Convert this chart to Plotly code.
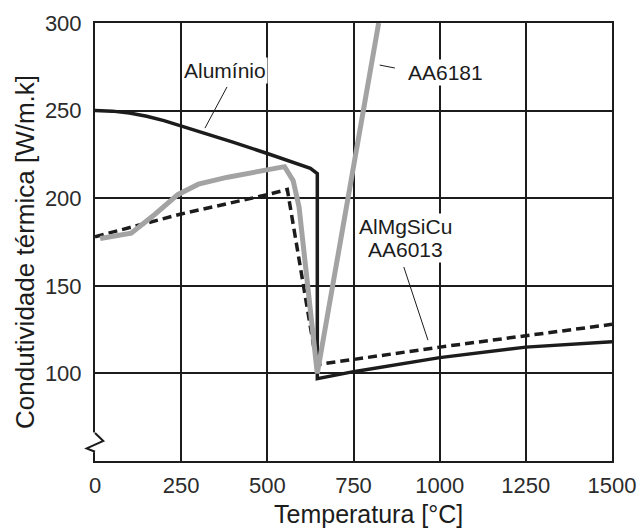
import plotly.graph_objects as go

# Thermal conductivity vs temperature
temp_al = [0, 50, 100, 150, 200, 250, 300, 400, 500, 600, 625, 645, 645, 750, 1000, 1250, 1500]
k_al = [250, 249.7, 248.6, 246.8, 244.3, 241.3, 238.5, 232, 225.5, 219, 217, 214, 97, 101, 109, 115, 118]

temp_6013 = [0, 250, 500, 558, 645, 645, 1000, 1500]
k_6013 = [178, 191, 202, 205, 103, 105, 115, 128]

temp_6181 = [15, 105, 175, 240, 300, 385, 550, 575, 592, 645, 823]
k_6181 = [177, 180, 191, 202, 208, 212, 218, 210, 195, 100, 300]

x_ticks = [0, 250, 500, 750, 1000, 1250, 1500]
y_ticks = [100, 150, 200, 250, 300]

Y_MIN, Y_MAX = 50, 300
INK = "#1c1c1c"
TXT = "#2b2b2b"
FONT = "Liberation Sans, Arial, sans-serif"

fig = go.Figure()
fig.add_trace(go.Scatter(x=temp_6013, y=k_6013, mode="lines",
                         line=dict(color=INK, width=3.5, dash="9px,5px"),
                         name="AlMgSiCu AA6013"))
fig.add_trace(go.Scatter(x=temp_al, y=k_al, mode="lines",
                         line=dict(color=INK, width=3.5), name="Alumínio"))
fig.add_trace(go.Scatter(x=temp_6181, y=k_6181, mode="lines",
                         line=dict(color="#a3a3a3", width=5), name="AA6181"))


def py(v):
    """Data value to paper fraction on the y axis."""
    return (v - Y_MIN) / (Y_MAX - Y_MIN)


shapes = []
# leader lines from labels to curves
for (x0, y0, x1, y1) in [(383, 263.5, 319, 240),
                         (826, 276, 870, 274.3),
                         (896, 160.7, 966, 119)]:
    shapes.append(dict(type="line", xref="x", yref="y", x0=x0, y0=y0, x1=x1, y1=y1,
                       line=dict(color=INK, width=1)))

# axis break on the vertical axis
shapes.append(dict(type="line", xref="paper", yref="paper", x0=0, x1=0,
                   y0=py(55.0), y1=py(66.3), layer="above",
                   line=dict(color="white", width=5)))
dx = 8.3 / 517
shapes.append(dict(type="path", xref="paper", yref="paper", layer="above",
                   path=f"M 0,{py(55.3)} L {-dx},{py(57.2)} L {dx},{py(61.4)} L 0,{py(66.0)}",
                   line=dict(color=INK, width=2)))

labels = [
    dict(x=377, y=273, text="Alumínio"),
    dict(x=1017, y=272, text="AA6181"),
    dict(x=900, y=170.6, text="AA6013"),
    dict(x=900, y=183.6, text="AlMgSiCu"),
]
annotations = []
for a in labels:
    a.update(xref="x", yref="y", showarrow=False, bgcolor="white",
             font=dict(size=21, color=INK, family=FONT), borderpad=1)
    annotations.append(a)

# axis titles
annotations.append(dict(text="Temperatura [°C]", xref="paper", yref="paper",
                        x=(368 - 95) / 517, y=-(514 - 461) / 438,
                        xanchor="center", yanchor="middle", showarrow=False,
                        font=dict(size=25, color=INK, family=FONT)))
annotations.append(dict(text="Condutividade térmica [W/m.k]", xref="paper", yref="paper",
                        x=(25 - 95) / 517, y=(461 - 252) / 438, textangle=-90,
                        xanchor="center", yanchor="middle", showarrow=False,
                        font=dict(size=26, color=INK, family=FONT)))

fig.update_layout(
    width=640, height=531,
    margin=dict(l=95, r=28, t=23, b=70),
    plot_bgcolor="white", paper_bgcolor="white",
    showlegend=False,
    shapes=shapes,
    annotations=annotations,
    font=dict(family=FONT, color=TXT),
)
fig.update_xaxes(
    range=[0, 1500], tickvals=x_ticks, ticktext=[str(v) for v in x_ticks],
    showgrid=True, gridcolor=INK, gridwidth=2,
    showline=True, linecolor=INK, linewidth=2, mirror=True,
    zeroline=False, ticks="", tickfont=dict(size=22, color=TXT),
    ticklabelstandoff=4, automargin=False,
)
fig.update_yaxes(
    range=[Y_MIN, Y_MAX], tickvals=y_ticks,
    showgrid=True, gridcolor=INK, gridwidth=2,
    showline=True, linecolor=INK, linewidth=2, mirror=True,
    zeroline=False, ticks="", tickfont=dict(size=22, color=TXT),
    ticklabelstandoff=7, automargin=False,
)

fig.write_html("out.html")
